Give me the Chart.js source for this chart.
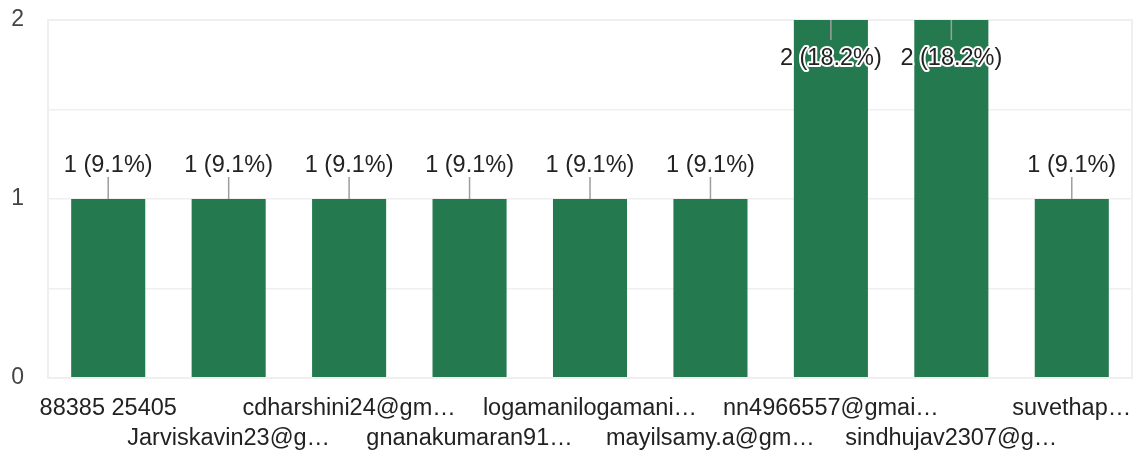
<!DOCTYPE html>
<html>
<head>
<meta charset="utf-8">
<script src="https://cdn.jsdelivr.net/npm/chart.js@4/dist/chart.umd.min.js"></script>
<style>
  html, body { margin: 0; padding: 0; background: #fff; }
  #wrap { width: 1134px; height: 451px; position: relative; }
</style>
</head>
<body>
<div id="wrap"><canvas id="c"></canvas></div>
<script>
const categories = [
  '88385 25405',
  'Jarviskavin23@g\u2026',
  'cdharshini24@gm\u2026',
  'gnanakumaran91\u2026',
  'logamanilogamani\u2026',
  'mayilsamy.a@gm\u2026',
  'nn4966557@gmai\u2026',
  'sindhujav2307@g\u2026',
  'suvethap\u2026'
];
const counts = [1, 1, 1, 1, 1, 1, 2, 2, 1];
const yTicks = [0, 1, 2];

const total = counts.reduce((a, b) => a + b, 0);
const FONT = '"Liberation Sans", Arial, sans-serif';

// area border + leader lines and value labels
const frame = {
  id: 'frame',
  beforeDatasetsDraw(chart) {
    const { ctx, chartArea: a } = chart;
    ctx.save();
    ctx.strokeStyle = '#efefef';
    ctx.lineWidth = 2;
    ctx.strokeRect(a.left, a.top, a.right - a.left, a.bottom - a.top);
    ctx.restore();
  },
  afterDatasetsDraw(chart) {
    const { ctx, chartArea: a } = chart;
    const meta = chart.getDatasetMeta(0);
    ctx.save();
    ctx.font = '23.5px ' + FONT;
    ctx.textAlign = 'center';
    ctx.textBaseline = 'middle';
    meta.data.forEach((bar, i) => {
      const v = counts[i];
      const txt = v + ' (' + (v / total * 100).toFixed(1) + '%)';
      let lineEnd, ty, inside = false;
      if (bar.y - 36 < a.top) {
        inside = true;
        lineEnd = bar.y + 20;
        ty = bar.y + 39;
      } else {
        lineEnd = bar.y - 22;
        ty = bar.y - 33;
      }
      ctx.strokeStyle = '#9e9e9e';
      ctx.lineWidth = 1.5;
      ctx.beginPath();
      ctx.moveTo(bar.x, bar.y);
      ctx.lineTo(bar.x, lineEnd);
      ctx.stroke();
      if (inside) {
        ctx.strokeStyle = '#fff';
        ctx.lineWidth = 4;
        ctx.lineJoin = 'round';
        ctx.strokeText(txt, bar.x, ty);
      }
      ctx.fillStyle = '#222';
      ctx.fillText(txt, bar.x, ty);
    });
    ctx.restore();
  }
};

new Chart(document.getElementById('c'), {
  type: 'bar',
  data: {
    labels: categories,
    datasets: [{
      data: counts,
      backgroundColor: '#24794e',
      borderWidth: 0,
      categoryPercentage: 1,
      barPercentage: 0.615
    }]
  },
  options: {
    responsive: true,
    maintainAspectRatio: false,
    animation: false,
    layout: { padding: { top: 20, right: 2, left: 0, bottom: 0 } },
    plugins: {
      legend: { display: false },
      tooltip: { enabled: false }
    },
    scales: {
      x: {
        grid: { display: false, drawTicks: false },
        border: { display: false },
        ticks: {
          autoSkip: false,
          maxRotation: 0,
          minRotation: 0,
          padding: 15,
          color: '#222',
          font: { family: FONT, size: 23.5, lineHeight: 1.3 },
          // alternate labels on two rows
          callback: (v, i) => i % 2 ? ['', categories[i]] : categories[i]
        },
        afterFit: s => {
          s.height = 73;
          s.paddingLeft = 0;
          s.paddingRight = 0;
        }
      },
      y: {
        min: 0,
        max: 2,
        afterBuildTicks: s => {
          s.ticks = [0, 0.5, 1, 1.5, 2].map(v => ({ value: v }));
        },
        grid: {
          drawTicks: false,
          color: c => c.tick.value === 0 ? '#333' : '#efefef',
          lineWidth: c => c.tick.value === 0 ? 2 : 1.5
        },
        border: { display: false },
        ticks: {
          padding: 24,
          color: '#444',
          font: { family: FONT, size: 23 },
          callback: v => yTicks.includes(v) ? v : ''
        },
        afterFit: s => {
          s.width = 48;
          s.paddingTop = 0;
          s.paddingBottom = 0;
        }
      }
    }
  },
  plugins: [frame]
});
</script>
</body>
</html>
